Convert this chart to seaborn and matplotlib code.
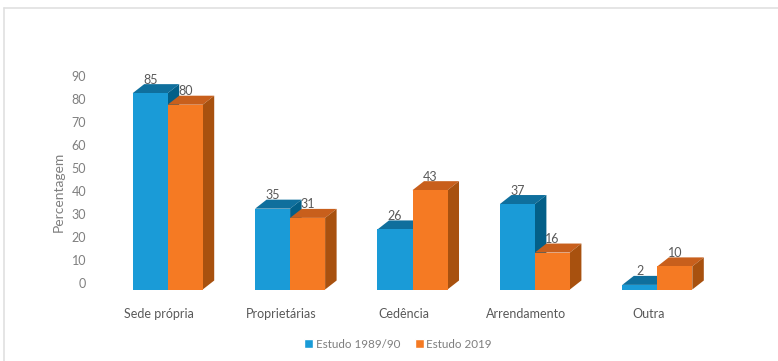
import matplotlib
matplotlib.use("Agg")
import matplotlib.pyplot as plt
from matplotlib.lines import Line2D
from matplotlib.patches import Patch, Polygon
from matplotlib.transforms import ScaledTranslation
import pandas as pd
import seaborn as sns

categories = ["Sede própria", "Proprietárias", "Cedência", "Arrendamento", "Outra"]
estudo_1989 = [85, 35, 26, 37, 2]
estudo_2019 = [80, 31, 43, 16, 10]
series_names = ["Estudo 1989/90", "Estudo 2019"]
y_ticks = list(range(0, 100, 10))

W, H = 778, 361
FRONT = ["#1a9bd7", "#f57a23"]
TOP = ["#0f6f9d", "#c85f1c"]
SIDE = ["#035f88", "#a8510f"]
TEXT = "#595959"
AXIS_TEXT = "#7f7f7f"

sns.set_theme(style="white")
plt.rcParams["font.family"] = ["Lato", "DejaVu Sans"]

df = pd.DataFrame({
    "cat": categories * 2,
    "val": estudo_1989 + estudo_2019,
    "serie": [series_names[0]] * 5 + [series_names[1]] * 5,
})

fig = plt.figure(figsize=(W / 100, H / 100), dpi=100)
left, right, bottom, top = 100, 725, 289.5, 76
ax = fig.add_axes([left / W, 1 - bottom / H, (right - left) / W, (bottom - top) / H])

sns.barplot(data=df, x="cat", y="val", hue="serie", hue_order=series_names,
            order=categories, palette=FRONT, width=0.572, gap=0, saturation=1,
            legend=False, ax=ax, linewidth=0, errorbar=None)

px_x = 122.4
px_y = 2.31
x0_px = 167.7
ax.set_xlim((left - x0_px) / px_x, (right - x0_px) / px_x)
ax.set_ylim(0, (bottom - top) / px_y)
dx, dy = 11.5 / px_x, 9 / px_y

for s, container in enumerate(ax.containers):
    for bar, val in zip(container, (estudo_1989, estudo_2019)[s]):
        a, b, h = bar.get_x(), bar.get_x() + bar.get_width(), bar.get_height()
        bar.set_zorder(3 + 2 * s)
        ax.add_patch(Polygon([(a, h), (b, h), (b + dx, h + dy), (a + dx, h + dy)],
                             closed=True, fc=TOP[s], ec="none", zorder=2 + 2 * s, clip_on=False))
        ax.add_patch(Polygon([(b, 0), (b, h), (b + dx, h + dy), (b + dx, dy)],
                             closed=True, fc=SIDE[s], ec="none", zorder=2 + 2 * s, clip_on=False))
        ax.annotate(str(val), ((a + b) / 2, h), xytext=(0, 9.7), textcoords="offset points",
                    ha="center", va="center", fontsize=9, color=TEXT, zorder=10,
                    annotation_clip=False)

sns.despine(ax=ax, left=True, bottom=True)
ax.set_yticks(y_ticks)
ax.set_xlabel("")
ax.set_ylabel("Percentagem", fontsize=10, color=AXIS_TEXT)
ax.yaxis.set_label_coords((65 - left) / (right - left), 0.455)
ax.tick_params(axis="both", length=0, labelsize=9, labelcolor=AXIS_TEXT)
ax.tick_params(axis="x", pad=13, labelcolor=TEXT)
ax.tick_params(axis="y", pad=10)
for lab in ax.get_yticklabels():
    lab.set_transform(lab.get_transform() + ScaledTranslation(0, 6 / 100, fig.dpi_scale_trans))
for lab in ax.get_xticklabels():
    lab.set_transform(lab.get_transform() + ScaledTranslation(-9 / 100, 0, fig.dpi_scale_trans))

handles = [Patch(fc=FRONT[0], label=series_names[0]), Patch(fc=FRONT[1], label=series_names[1])]
leg = fig.legend(handles=handles, loc="center", bbox_to_anchor=(398 / W, 1 - 344 / H),
                 ncol=2, frameon=False, fontsize=8.4, handlelength=0.8, handleheight=0.8,
                 handletextpad=0.2, columnspacing=1.25)
for t in leg.get_texts():
    t.set_color(AXIS_TEXT)

frame = dict(color="#e0e0e0", lw=1.2, transform=fig.transFigure)
fig.add_artist(Line2D([4 / W, 4 / W], [0, 1 - 8 / H], **frame))
fig.add_artist(Line2D([4 / W, 1], [1 - 8 / H, 1 - 8 / H], **frame))

fig.savefig("out.png", dpi=100, facecolor="white")
